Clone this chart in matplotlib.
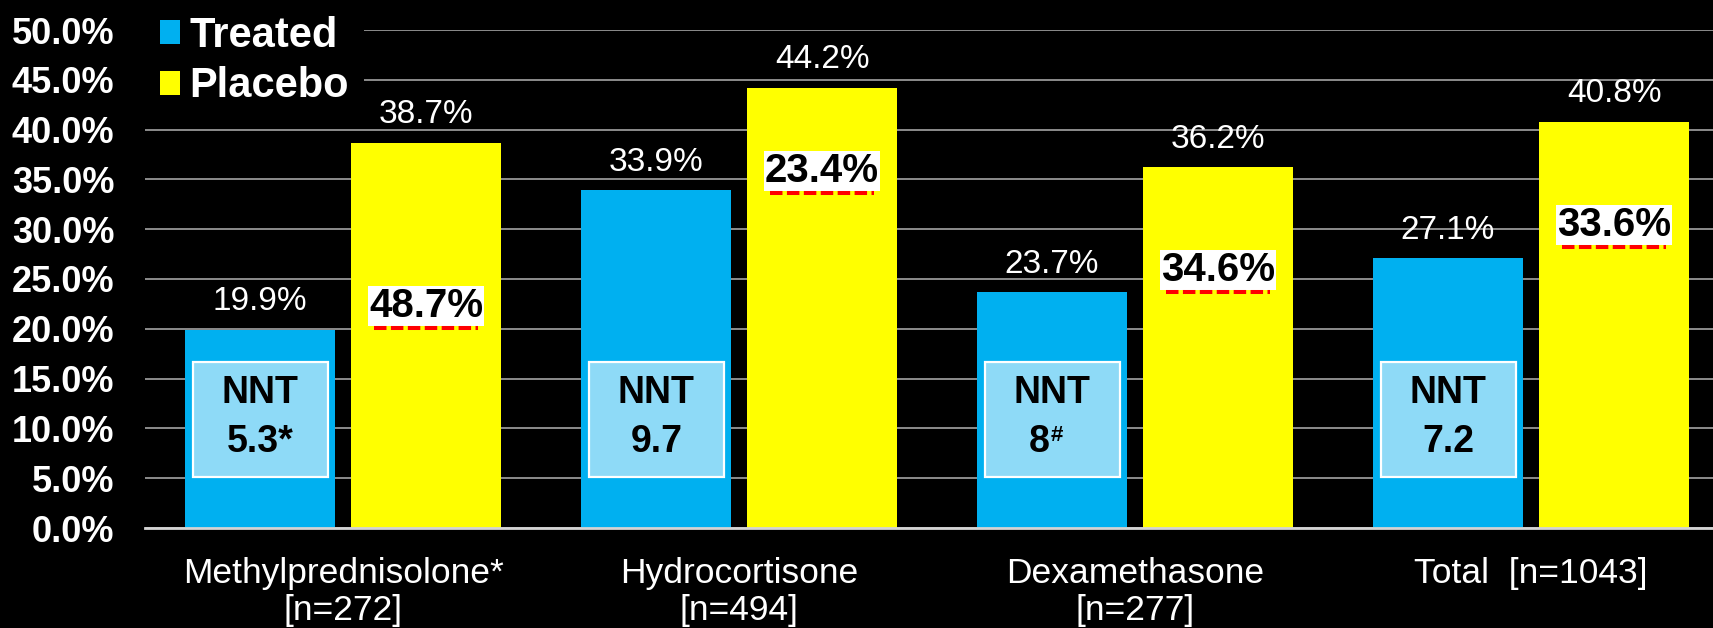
import matplotlib
matplotlib.use('Agg')
import matplotlib.pyplot as plt
from matplotlib.patches import Patch, Rectangle
from matplotlib import font_manager

categories = ['Methylprednisolone*\n[n=272]', 'Hydrocortisone\n[n=494]',
              'Dexamethasone\n[n=277]', 'Total  [n=1043]']
treated = [19.9, 33.9, 23.7, 27.1]
placebo = [38.7, 44.2, 36.2, 40.8]
boxed = [48.7, 23.4, 34.6, 33.6]
nnt = ['5.3*', '9.7', '8', '7.2']
nnt_sup = ['', '', '#', '']
yticks = [0, 5, 10, 15, 20, 25, 30, 35, 40, 45, 50]

# where the white boxed labels sit on the placebo bars (y, in %)
boxed_pos = [22.3, 35.85, 25.9, 30.4]

BLUE = '#00B0F0'
YELLOW = '#FFFF00'
NNT_FILL = '#8EDAF7'

plt.rcParams['font.family'] = ['Liberation Sans', 'DejaVu Sans']

names = {f.name for f in font_manager.fontManager.ttflist}
if 'Liberation Sans Narrow' in names:
    xfont = dict(family='Liberation Sans Narrow', fontsize=30)
else:
    xfont = dict(family='Liberation Sans', fontsize=25.5)

fig = plt.figure(figsize=(17.13, 6.28), dpi=100, facecolor='black')
ax = fig.add_axes([145 / 1713, 100 / 628, 1568 / 1713, 498 / 628])
ax.set_facecolor('black')

x = list(range(len(categories)))
w = 0.38
off = 0.21
ax.bar([i - off for i in x], treated, width=w, color=BLUE, label='Treated', zorder=2)
ax.bar([i + off for i in x], placebo, width=w, color=YELLOW, label='Placebo', zorder=2)

ax.set_xlim(-0.5, -0.5 + 1568 / 396)
ax.set_ylim(0, 50)
ax.set_yticks(yticks)
ax.set_yticklabels([f'{v:.1f}%' for v in yticks], color='white', fontsize=26,
                   fontweight='bold')
ax.set_xticks(x)
ax.set_xticklabels(categories, color='white', linespacing=1.15, **xfont)
ax.tick_params(axis='both', length=0)
ax.tick_params(axis='y', pad=22)
ax.tick_params(axis='x', pad=21)
for s in ax.spines.values():
    s.set_visible(False)

ax.set_axisbelow(True)
ax.grid(axis='y', color='#8c8c8c', linewidth=1.4)
ax.axhline(0, color='#d4d4d4', linewidth=2, zorder=3, clip_on=False)

# values on top of bars
for i in x:
    ax.annotate(f'{treated[i]:.1f}%', xy=(i - off, treated[i]), xytext=(0, 14),
                textcoords='offset points', ha='center', va='baseline',
                color='white', fontsize=24)
    ax.annotate(f'{placebo[i]:.1f}%', xy=(i + off, placebo[i]), xytext=(0, 14),
                textcoords='offset points', ha='center', va='baseline',
                color='white', fontsize=24)

# white boxed labels with red dashed underline
for i in x:
    ax.text(i + off, boxed_pos[i], f'{boxed[i]:.1f}%', ha='center', va='center',
            fontsize=29, fontweight='bold', color='black', zorder=5,
            bbox=dict(boxstyle='square,pad=0.03', facecolor='white', edgecolor='none'))
    ax.plot([i + off - 0.131, i + off + 0.131], [boxed_pos[i] - 2.2] * 2,
            color='#FF0000', linewidth=2.9, linestyle=(0, (3.1, 1.1)),
            solid_capstyle='butt', dash_capstyle='butt', zorder=5)

# NNT boxes inside treated bars
for i in x:
    ax.add_patch(Rectangle((i - 0.379, 5.1), 0.341, 11.6, facecolor=NNT_FILL,
                           edgecolor='white', linewidth=1.6, zorder=4))
    cx = i - 0.2085
    ax.text(cx, 13.6, 'NNT', ha='center', va='center', fontsize=27,
            fontweight='bold', color='black', zorder=5)
    if nnt_sup[i]:
        ax.annotate(nnt[i], xy=(cx, 8.6), xytext=(-2, 0), textcoords='offset points',
                    ha='right', va='center', fontsize=27, fontweight='bold',
                    color='black', zorder=5)
        ax.annotate(nnt_sup[i], xy=(cx, 10.3), xytext=(-1, 0), textcoords='offset points',
                    ha='left', va='top', fontsize=16, fontweight='bold',
                    color='black', zorder=5)
    else:
        ax.text(cx, 8.6, nnt[i], ha='center', va='center', fontsize=27,
                fontweight='bold', color='black', zorder=5)

handles = [Patch(facecolor=BLUE, label='Treated'), Patch(facecolor=YELLOW, label='Placebo')]
leg = ax.legend(handles=handles, loc='upper left', bbox_to_anchor=(145 / 1713, 1 - 1 / 628),
                bbox_transform=fig.transFigure, frameon=True, facecolor='black',
                edgecolor='none', framealpha=1, fancybox=False,
                prop=dict(family='Liberation Sans', weight='bold', size=30),
                handlelength=0.5, handleheight=0.5, handletextpad=0.22,
                labelspacing=0.26, borderpad=0.35, borderaxespad=0)
for t in leg.get_texts():
    t.set_color('white')
leg.set_zorder(10)

fig.savefig('out.png', dpi=100, facecolor='black')
